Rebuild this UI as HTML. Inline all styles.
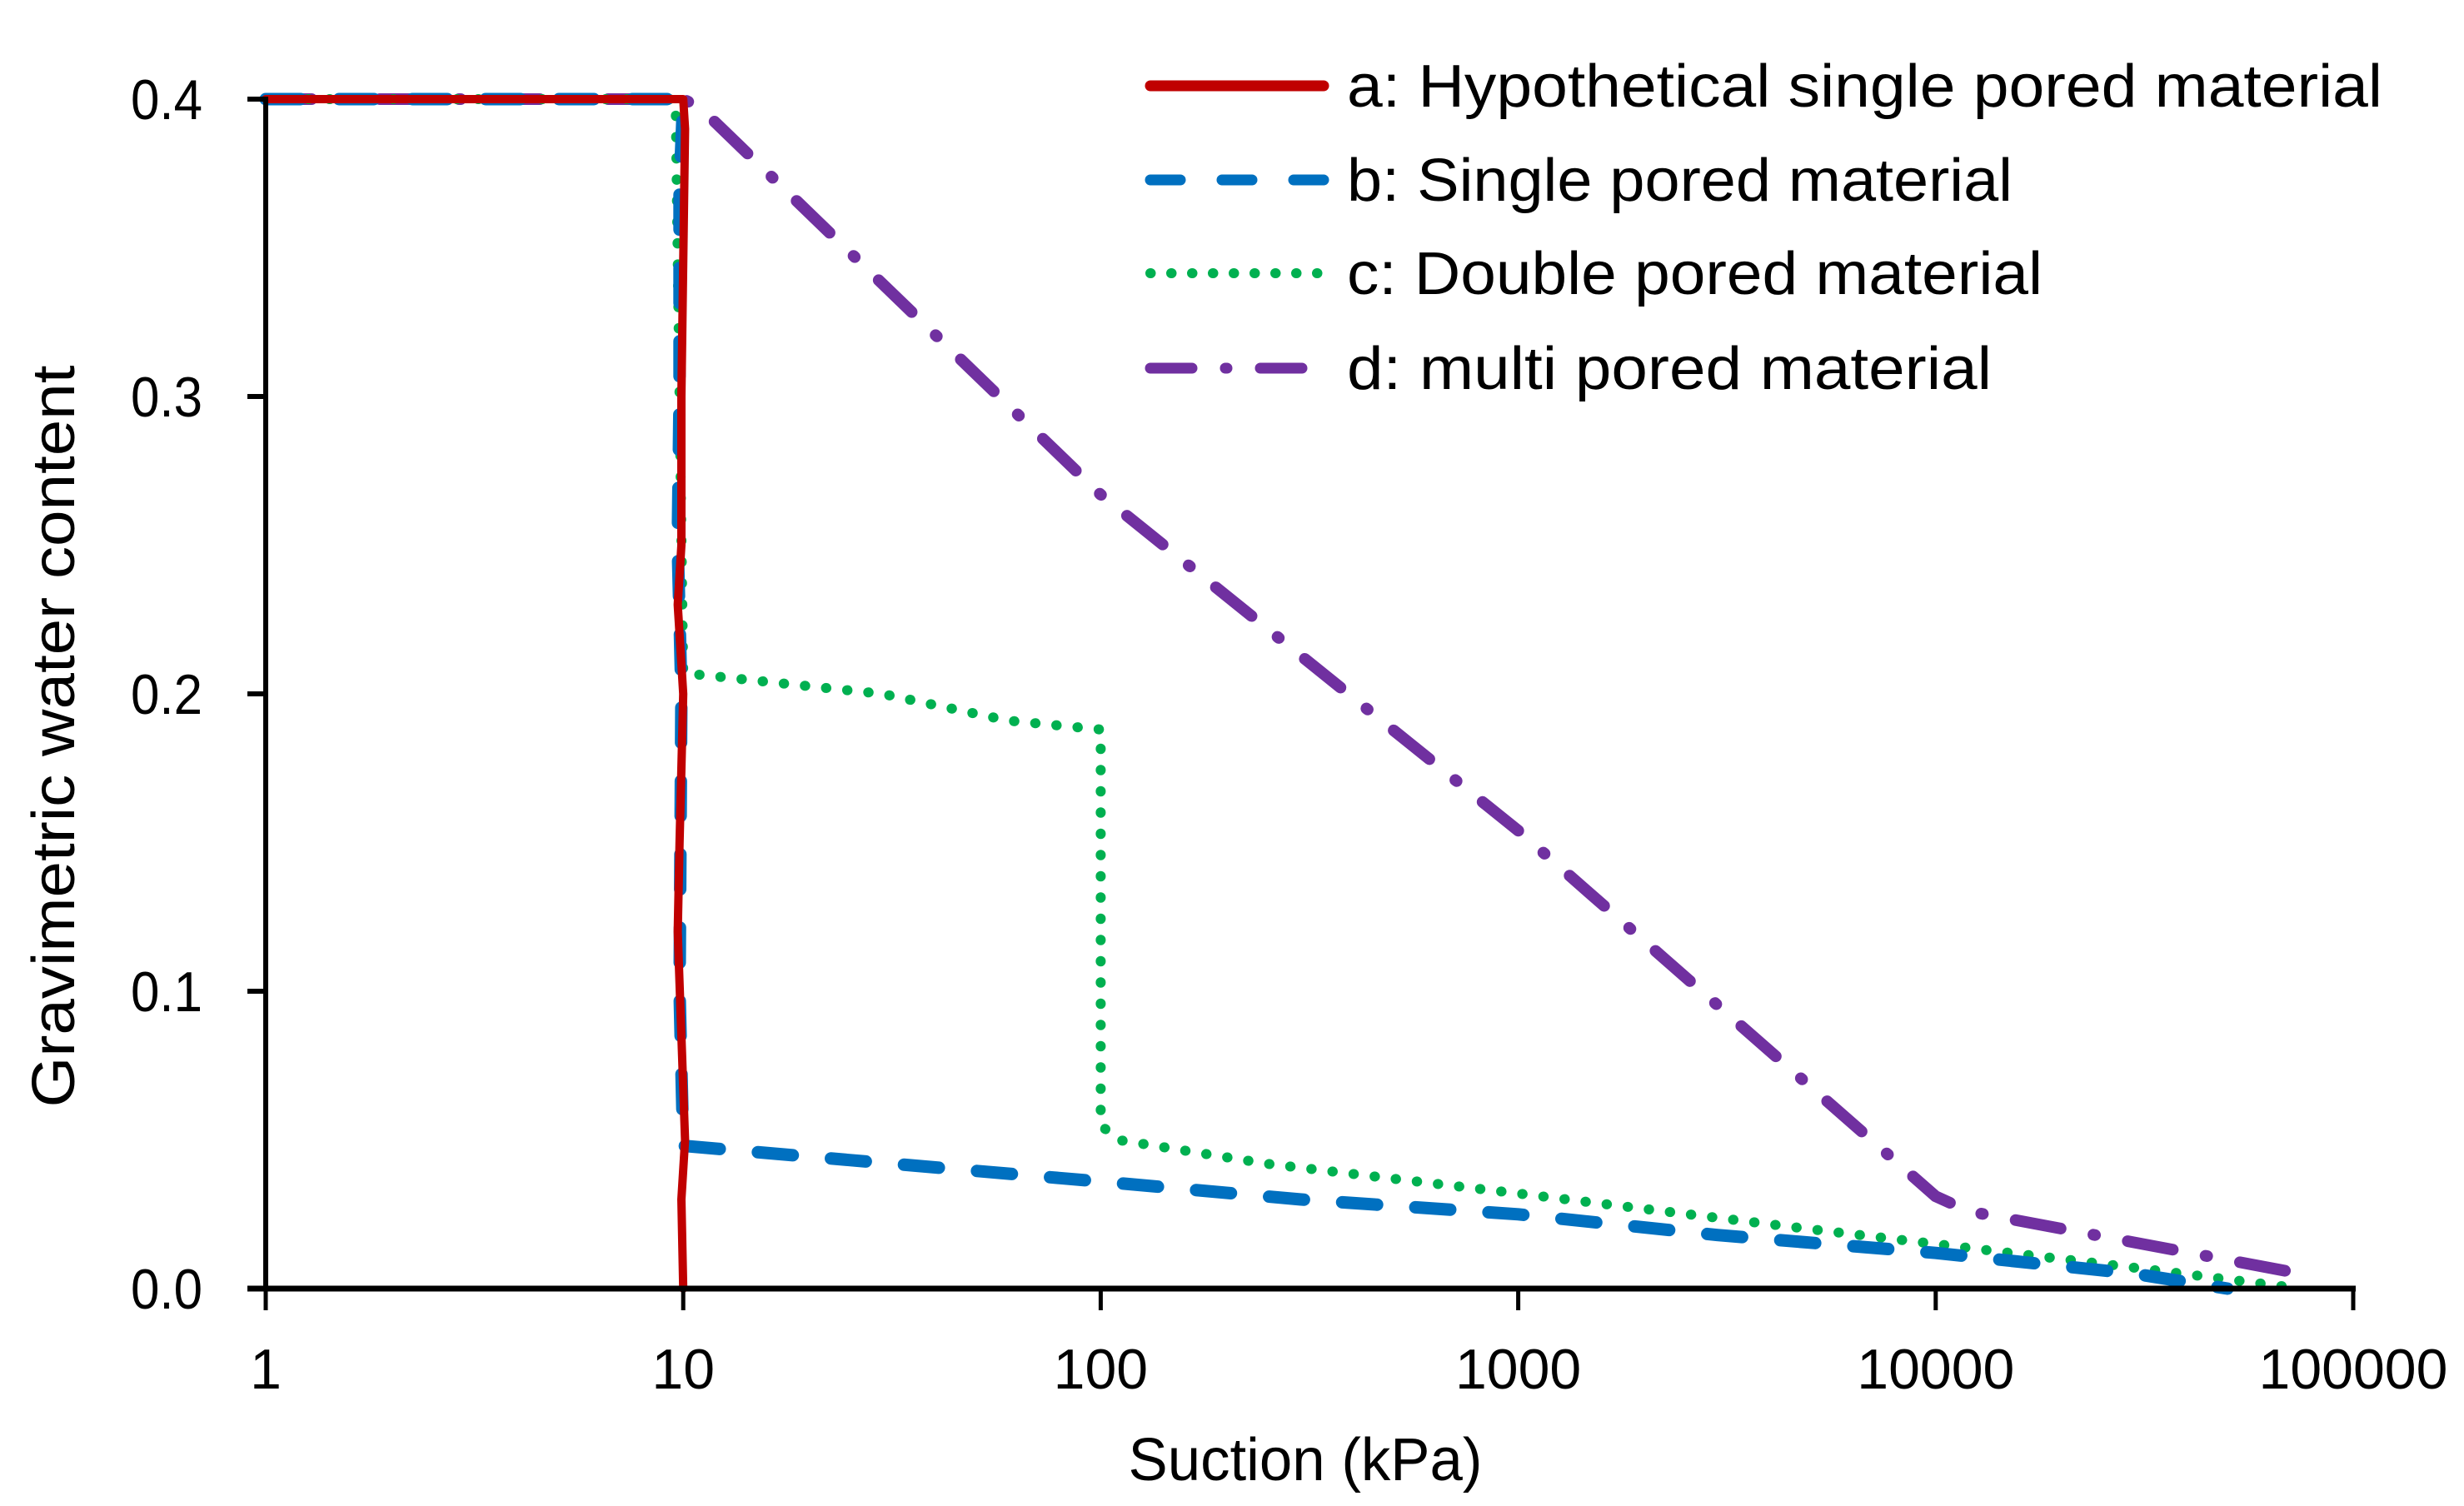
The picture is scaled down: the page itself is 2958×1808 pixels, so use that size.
<!DOCTYPE html>
<html><head><meta charset="utf-8"><style>html,body{margin:0;padding:0;background:#fff}svg{display:block}</style></head>
<body>
<svg id="chart" width="2958" height="1808" viewBox="0 0 2958 1808" xmlns="http://www.w3.org/2000/svg" font-family="'Liberation Sans', sans-serif">
<rect width="2958" height="1808" fill="#fff"/>
<g id="series"></g>
<g id="axes"></g>
<g id="legend"></g>
<text x="1567" y="1777" font-size="72" text-anchor="middle" textLength="425" lengthAdjust="spacingAndGlyphs">Suction (kPa)</text>
<text transform="translate(89,884) rotate(-90)" font-size="72" text-anchor="middle" textLength="891" lengthAdjust="spacingAndGlyphs">Gravimetric water content</text>
</svg>
<script>
const xTicks = [1, 10, 100, 1000, 10000, 100000];
const xTickLabels = ["1", "10", "100", "1000", "10000", "100000"];
const yTicks = [0, 0.1, 0.2, 0.3, 0.4];
const yTickLabels = ["0.0", "0.1", "0.2", "0.3", "0.4"];
const seriesNames = ["a: Hypothetical single pored material", "b: Single pored material", "c: Double pored material", "d: multi pored material"];
const aX = [1, 10, 10.1, 9.9, 9.9, 9.7, 10, 9.8, 9.7, 10.1, 9.9, 10];
const aY = [0.4, 0.4, 0.39, 0.3, 0.25, 0.23, 0.2, 0.15, 0.12, 0.05, 0.03, 0];
const bX = [1, 10, 9.8, 9.8, 9.7, 9.9, 9.8, 10, 100, 300, 1000, 3000, 10000, 30000, 50000];
const bY = [0.4, 0.4, 0.37, 0.3, 0.25, 0.2, 0.1, 0.048, 0.036, 0.03, 0.025, 0.018, 0.012, 0.005, 0];
const cX = [1, 9.5, 9.6, 9.8, 10, 30, 60, 100, 100, 110, 250, 1000, 5000, 10000, 30000, 75000];
const cY = [0.4, 0.4, 0.395, 0.3, 0.207, 0.2, 0.191, 0.188, 0.055, 0.05, 0.042, 0.032, 0.02, 0.015, 0.007, 0];
const dX = [1, 10, 11, 100, 1000, 10000, 12000, 75000];
const dY = [0.4, 0.4, 0.397, 0.267, 0.154, 0.031, 0.026, 0.005];

const NS = "http://www.w3.org/2000/svg";
const L = 319, R = 2825, B = 1547, T = 119;
function sx(v){ return L + (Math.log10(v) - 0) / 5 * (R - L); }
function sy(v){ return B - v / 0.4 * (B - T); }
function mk(tag, attrs, parent){ const e = document.createElementNS(NS, tag); for (const k in attrs) e.setAttribute(k, attrs[k]); parent.appendChild(e); return e; }

const styles = [
  {c:"#C00000", w:10, d:"", cap:"round"},
  {c:"#0070C0", w:15, d:"42 46", cap:"round"},
  {c:"#00B050", w:12, d:"0.5 25", cap:"round"},
  {c:"#7030A0", w:14, d:"55 40 2 40", cap:"round"}
];
const xs = [aX,bX,cX,dX], ys = [aY,bY,cY,dY];
const sg = document.getElementById("series");
const snames = ["series-a-line","series-b-line","series-c-line","series-d-line"];
for (let i = 3; i >= 0; i--) {
  let dstr = "";
  for (let j = 0; j < xs[i].length; j++) dstr += (j ? "L" : "M") + sx(xs[i][j]).toFixed(1) + " " + sy(ys[i][j]).toFixed(1);
  const p = mk("path", {d:dstr, fill:"none", stroke:styles[i].c, "stroke-width":styles[i].w, "stroke-linecap":styles[i].cap, "stroke-linejoin":"round"}, sg);
  if (styles[i].d) p.setAttribute("stroke-dasharray", styles[i].d);
  
  
}

const ax = document.getElementById("axes");
const yl = mk("line", {x1:L, y1:T-3, x2:L, y2:B, stroke:"#000", "stroke-width":6}, ax);


const xl = mk("line", {x1:L-22, y1:B, x2:R+3, y2:B, stroke:"#000", "stroke-width":7}, ax);


for (let i = 0; i < yTicks.length; i++) {
  const y = sy(yTicks[i]);
  const t = mk("line", {x1:L-22, y1:y, x2:L, y2:y, stroke:"#000", "stroke-width":6}, ax);
  
  
  const tx = mk("text", {x:243, y:y+24, "font-size":68, "text-anchor":"end", textLength:86, lengthAdjust:"spacingAndGlyphs"}, ax);
  tx.textContent = yTickLabels[i];
  
  
}
for (let i = 0; i < xTicks.length; i++) {
  const x = sx(xTicks[i]);
  const t = mk("line", {x1:x, y1:B, x2:x, y2:B+26, stroke:"#000", "stroke-width":5}, ax);
  
  
  const tx = mk("text", {x:x, y:1667, "font-size":68, "text-anchor":"middle"}, ax);
  tx.textContent = xTickLabels[i];
  
  
}

const lg = document.getElementById("legend");
const rowY = [103, 216, 328, 442];
const textW = [1243, 799, 835, 774];
const legW = [13, 13, 12, 13];
const legD = ["", "36 50", "0.5 24.5", "50 40 2 40"];
for (let i = 0; i < 4; i++) {
  const ln = mk("line", {x1:1381, y1:rowY[i], x2:1589, y2:rowY[i], stroke:styles[i].c, "stroke-width":legW[i], "stroke-linecap":"round"}, lg);
  if (legD[i]) ln.setAttribute("stroke-dasharray", legD[i]);
  
  
  const tx = mk("text", {x:1617, y:rowY[i]+25, "font-size":72, textLength:textW[i], lengthAdjust:"spacingAndGlyphs"}, lg);
  tx.textContent = seriesNames[i];
  
  
}
</script>
</body></html>
